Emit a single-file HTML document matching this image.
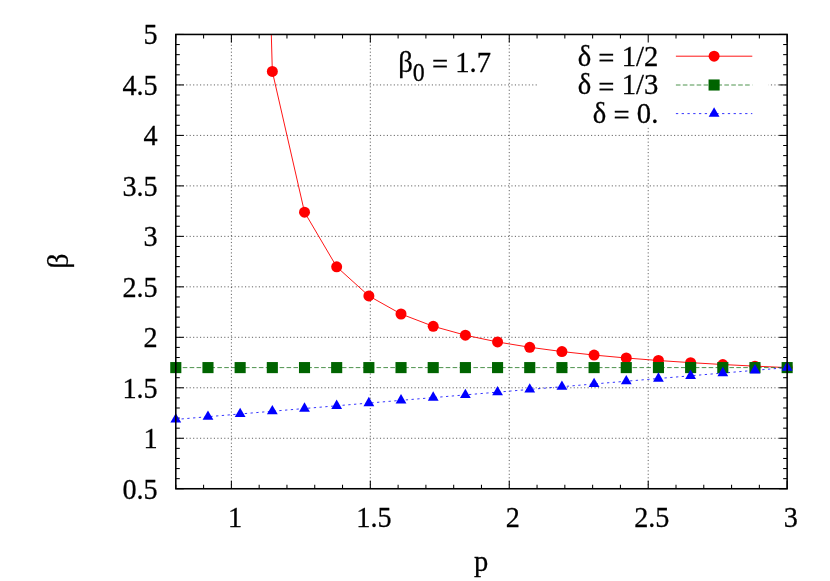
<!DOCTYPE html>
<html><head><meta charset="utf-8"><title>plot</title>
<style>html,body{margin:0;padding:0;background:#fff;overflow:hidden;}svg{display:block;}text{font-family:"Liberation Serif",serif;fill:#000;stroke:#000;stroke-width:0.28px;}</style></head><body>
<div style="width:830px;height:581px;will-change:transform;">
<svg width="830" height="581" viewBox="0 0 830 581">
<rect x="0" y="0" width="830" height="581" fill="#fff"/>
<g stroke="#000" stroke-opacity="0.95" stroke-width="0.65" stroke-dasharray="1.15 2.31" fill="none">
<line x1="175.80" y1="438.27" x2="787.15" y2="438.27"/>
<line x1="175.80" y1="387.79" x2="787.15" y2="387.79"/>
<line x1="175.80" y1="337.32" x2="787.15" y2="337.32"/>
<line x1="175.80" y1="286.84" x2="787.15" y2="286.84"/>
<line x1="175.80" y1="236.36" x2="787.15" y2="236.36"/>
<line x1="175.80" y1="185.88" x2="787.15" y2="185.88"/>
<line x1="175.80" y1="135.41" x2="787.15" y2="135.41"/>
<line x1="175.80" y1="84.93" x2="787.15" y2="84.93"/>
<line x1="231.38" y1="488.75" x2="231.38" y2="34.45"/>
<line x1="370.32" y1="488.75" x2="370.32" y2="34.45"/>
<line x1="509.26" y1="488.75" x2="509.26" y2="34.45"/>
<line x1="648.21" y1="488.75" x2="648.21" y2="34.45"/>
</g>
<rect x="537" y="34.45" width="231.7" height="92.85" fill="#fff"/>
<g stroke="#000" stroke-width="1.05" fill="none">
<line x1="175.80" y1="488.75" x2="183.80" y2="488.75"/>
<line x1="787.15" y1="488.75" x2="779.15" y2="488.75"/>
<line x1="175.80" y1="478.65" x2="179.80" y2="478.65"/>
<line x1="787.15" y1="478.65" x2="783.15" y2="478.65"/>
<line x1="175.80" y1="468.56" x2="179.80" y2="468.56"/>
<line x1="787.15" y1="468.56" x2="783.15" y2="468.56"/>
<line x1="175.80" y1="458.46" x2="179.80" y2="458.46"/>
<line x1="787.15" y1="458.46" x2="783.15" y2="458.46"/>
<line x1="175.80" y1="448.37" x2="179.80" y2="448.37"/>
<line x1="787.15" y1="448.37" x2="783.15" y2="448.37"/>
<line x1="175.80" y1="438.27" x2="183.80" y2="438.27"/>
<line x1="787.15" y1="438.27" x2="779.15" y2="438.27"/>
<line x1="175.80" y1="428.18" x2="179.80" y2="428.18"/>
<line x1="787.15" y1="428.18" x2="783.15" y2="428.18"/>
<line x1="175.80" y1="418.08" x2="179.80" y2="418.08"/>
<line x1="787.15" y1="418.08" x2="783.15" y2="418.08"/>
<line x1="175.80" y1="407.99" x2="179.80" y2="407.99"/>
<line x1="787.15" y1="407.99" x2="783.15" y2="407.99"/>
<line x1="175.80" y1="397.89" x2="179.80" y2="397.89"/>
<line x1="787.15" y1="397.89" x2="783.15" y2="397.89"/>
<line x1="175.80" y1="387.79" x2="183.80" y2="387.79"/>
<line x1="787.15" y1="387.79" x2="779.15" y2="387.79"/>
<line x1="175.80" y1="377.70" x2="179.80" y2="377.70"/>
<line x1="787.15" y1="377.70" x2="783.15" y2="377.70"/>
<line x1="175.80" y1="367.60" x2="179.80" y2="367.60"/>
<line x1="787.15" y1="367.60" x2="783.15" y2="367.60"/>
<line x1="175.80" y1="357.51" x2="179.80" y2="357.51"/>
<line x1="787.15" y1="357.51" x2="783.15" y2="357.51"/>
<line x1="175.80" y1="347.41" x2="179.80" y2="347.41"/>
<line x1="787.15" y1="347.41" x2="783.15" y2="347.41"/>
<line x1="175.80" y1="337.32" x2="183.80" y2="337.32"/>
<line x1="787.15" y1="337.32" x2="779.15" y2="337.32"/>
<line x1="175.80" y1="327.22" x2="179.80" y2="327.22"/>
<line x1="787.15" y1="327.22" x2="783.15" y2="327.22"/>
<line x1="175.80" y1="317.13" x2="179.80" y2="317.13"/>
<line x1="787.15" y1="317.13" x2="783.15" y2="317.13"/>
<line x1="175.80" y1="307.03" x2="179.80" y2="307.03"/>
<line x1="787.15" y1="307.03" x2="783.15" y2="307.03"/>
<line x1="175.80" y1="296.93" x2="179.80" y2="296.93"/>
<line x1="787.15" y1="296.93" x2="783.15" y2="296.93"/>
<line x1="175.80" y1="286.84" x2="183.80" y2="286.84"/>
<line x1="787.15" y1="286.84" x2="779.15" y2="286.84"/>
<line x1="175.80" y1="276.74" x2="179.80" y2="276.74"/>
<line x1="787.15" y1="276.74" x2="783.15" y2="276.74"/>
<line x1="175.80" y1="266.65" x2="179.80" y2="266.65"/>
<line x1="787.15" y1="266.65" x2="783.15" y2="266.65"/>
<line x1="175.80" y1="256.55" x2="179.80" y2="256.55"/>
<line x1="787.15" y1="256.55" x2="783.15" y2="256.55"/>
<line x1="175.80" y1="246.46" x2="179.80" y2="246.46"/>
<line x1="787.15" y1="246.46" x2="783.15" y2="246.46"/>
<line x1="175.80" y1="236.36" x2="183.80" y2="236.36"/>
<line x1="787.15" y1="236.36" x2="779.15" y2="236.36"/>
<line x1="175.80" y1="226.27" x2="179.80" y2="226.27"/>
<line x1="787.15" y1="226.27" x2="783.15" y2="226.27"/>
<line x1="175.80" y1="216.17" x2="179.80" y2="216.17"/>
<line x1="787.15" y1="216.17" x2="783.15" y2="216.17"/>
<line x1="175.80" y1="206.07" x2="179.80" y2="206.07"/>
<line x1="787.15" y1="206.07" x2="783.15" y2="206.07"/>
<line x1="175.80" y1="195.98" x2="179.80" y2="195.98"/>
<line x1="787.15" y1="195.98" x2="783.15" y2="195.98"/>
<line x1="175.80" y1="185.88" x2="183.80" y2="185.88"/>
<line x1="787.15" y1="185.88" x2="779.15" y2="185.88"/>
<line x1="175.80" y1="175.79" x2="179.80" y2="175.79"/>
<line x1="787.15" y1="175.79" x2="783.15" y2="175.79"/>
<line x1="175.80" y1="165.69" x2="179.80" y2="165.69"/>
<line x1="787.15" y1="165.69" x2="783.15" y2="165.69"/>
<line x1="175.80" y1="155.60" x2="179.80" y2="155.60"/>
<line x1="787.15" y1="155.60" x2="783.15" y2="155.60"/>
<line x1="175.80" y1="145.50" x2="179.80" y2="145.50"/>
<line x1="787.15" y1="145.50" x2="783.15" y2="145.50"/>
<line x1="175.80" y1="135.41" x2="183.80" y2="135.41"/>
<line x1="787.15" y1="135.41" x2="779.15" y2="135.41"/>
<line x1="175.80" y1="125.31" x2="179.80" y2="125.31"/>
<line x1="787.15" y1="125.31" x2="783.15" y2="125.31"/>
<line x1="175.80" y1="115.21" x2="179.80" y2="115.21"/>
<line x1="787.15" y1="115.21" x2="783.15" y2="115.21"/>
<line x1="175.80" y1="105.12" x2="179.80" y2="105.12"/>
<line x1="787.15" y1="105.12" x2="783.15" y2="105.12"/>
<line x1="175.80" y1="95.02" x2="179.80" y2="95.02"/>
<line x1="787.15" y1="95.02" x2="783.15" y2="95.02"/>
<line x1="175.80" y1="84.93" x2="183.80" y2="84.93"/>
<line x1="787.15" y1="84.93" x2="779.15" y2="84.93"/>
<line x1="175.80" y1="74.83" x2="179.80" y2="74.83"/>
<line x1="787.15" y1="74.83" x2="783.15" y2="74.83"/>
<line x1="175.80" y1="64.74" x2="179.80" y2="64.74"/>
<line x1="787.15" y1="64.74" x2="783.15" y2="64.74"/>
<line x1="175.80" y1="54.64" x2="179.80" y2="54.64"/>
<line x1="787.15" y1="54.64" x2="783.15" y2="54.64"/>
<line x1="175.80" y1="44.55" x2="179.80" y2="44.55"/>
<line x1="787.15" y1="44.55" x2="783.15" y2="44.55"/>
<line x1="175.80" y1="34.45" x2="183.80" y2="34.45"/>
<line x1="787.15" y1="34.45" x2="779.15" y2="34.45"/>
<line x1="175.80" y1="488.75" x2="175.80" y2="484.75"/>
<line x1="175.80" y1="34.45" x2="175.80" y2="38.45"/>
<line x1="203.59" y1="488.75" x2="203.59" y2="484.75"/>
<line x1="203.59" y1="34.45" x2="203.59" y2="38.45"/>
<line x1="231.38" y1="488.75" x2="231.38" y2="480.75"/>
<line x1="231.38" y1="34.45" x2="231.38" y2="42.45"/>
<line x1="259.17" y1="488.75" x2="259.17" y2="484.75"/>
<line x1="259.17" y1="34.45" x2="259.17" y2="38.45"/>
<line x1="286.95" y1="488.75" x2="286.95" y2="484.75"/>
<line x1="286.95" y1="34.45" x2="286.95" y2="38.45"/>
<line x1="314.74" y1="488.75" x2="314.74" y2="484.75"/>
<line x1="314.74" y1="34.45" x2="314.74" y2="38.45"/>
<line x1="342.53" y1="488.75" x2="342.53" y2="484.75"/>
<line x1="342.53" y1="34.45" x2="342.53" y2="38.45"/>
<line x1="370.32" y1="488.75" x2="370.32" y2="480.75"/>
<line x1="370.32" y1="34.45" x2="370.32" y2="42.45"/>
<line x1="398.11" y1="488.75" x2="398.11" y2="484.75"/>
<line x1="398.11" y1="34.45" x2="398.11" y2="38.45"/>
<line x1="425.90" y1="488.75" x2="425.90" y2="484.75"/>
<line x1="425.90" y1="34.45" x2="425.90" y2="38.45"/>
<line x1="453.69" y1="488.75" x2="453.69" y2="484.75"/>
<line x1="453.69" y1="34.45" x2="453.69" y2="38.45"/>
<line x1="481.47" y1="488.75" x2="481.47" y2="484.75"/>
<line x1="481.47" y1="34.45" x2="481.47" y2="38.45"/>
<line x1="509.26" y1="488.75" x2="509.26" y2="480.75"/>
<line x1="509.26" y1="34.45" x2="509.26" y2="42.45"/>
<line x1="537.05" y1="488.75" x2="537.05" y2="484.75"/>
<line x1="537.05" y1="34.45" x2="537.05" y2="38.45"/>
<line x1="564.84" y1="488.75" x2="564.84" y2="484.75"/>
<line x1="564.84" y1="34.45" x2="564.84" y2="38.45"/>
<line x1="592.63" y1="488.75" x2="592.63" y2="484.75"/>
<line x1="592.63" y1="34.45" x2="592.63" y2="38.45"/>
<line x1="620.42" y1="488.75" x2="620.42" y2="484.75"/>
<line x1="620.42" y1="34.45" x2="620.42" y2="38.45"/>
<line x1="648.21" y1="488.75" x2="648.21" y2="480.75"/>
<line x1="648.21" y1="34.45" x2="648.21" y2="42.45"/>
<line x1="676.00" y1="488.75" x2="676.00" y2="484.75"/>
<line x1="676.00" y1="34.45" x2="676.00" y2="38.45"/>
<line x1="703.78" y1="488.75" x2="703.78" y2="484.75"/>
<line x1="703.78" y1="34.45" x2="703.78" y2="38.45"/>
<line x1="731.57" y1="488.75" x2="731.57" y2="484.75"/>
<line x1="731.57" y1="34.45" x2="731.57" y2="38.45"/>
<line x1="759.36" y1="488.75" x2="759.36" y2="484.75"/>
<line x1="759.36" y1="34.45" x2="759.36" y2="38.45"/>
<line x1="787.15" y1="488.75" x2="787.15" y2="480.75"/>
<line x1="787.15" y1="34.45" x2="787.15" y2="42.45"/>
</g>
<clipPath id="c"><rect x="175.80" y="34.45" width="611.35" height="454.30"/></clipPath>
<g clip-path="url(#c)" fill="none">
<polyline points="240.15,-1100.74 272.33,71.47 304.51,212.13 336.68,266.83 368.86,295.93 401.03,313.99 433.21,326.29 465.39,335.21 497.56,341.98 529.74,347.28 561.92,351.55 594.09,355.07 626.27,358.01 658.44,360.50 690.62,362.65 722.80,364.52 754.97,366.16 787.15,367.60" stroke="#ff0000" stroke-width="0.92"/>
<polyline points="175.80,367.60 207.98,367.60 240.15,367.60 272.33,367.60 304.51,367.60 336.68,367.60 368.86,367.60 401.03,367.60 433.21,367.60 465.39,367.60 497.56,367.60 529.74,367.60 561.92,367.60 594.09,367.60 626.27,367.60 658.44,367.60 690.62,367.60 722.80,367.60 754.97,367.60 787.15,367.60" stroke="#006400" stroke-width="0.7" stroke-dasharray="4.61 2.31"/>
<polyline points="175.80,419.43 207.98,416.70 240.15,413.97 272.33,411.24 304.51,408.52 336.68,405.79 368.86,403.06 401.03,400.33 433.21,397.61 465.39,394.88 497.56,392.15 529.74,389.42 561.92,386.70 594.09,383.97 626.27,381.24 658.44,378.51 690.62,375.79 722.80,373.06 754.97,370.33 787.15,367.60" stroke="#0000ff" stroke-width="0.8" stroke-dasharray="2.31 3.46"/>
</g>
<circle cx="272.33" cy="71.47" r="5.5" fill="#ff0000"/>
<circle cx="304.51" cy="212.13" r="5.5" fill="#ff0000"/>
<circle cx="336.68" cy="266.83" r="5.5" fill="#ff0000"/>
<circle cx="368.86" cy="295.93" r="5.5" fill="#ff0000"/>
<circle cx="401.03" cy="313.99" r="5.5" fill="#ff0000"/>
<circle cx="433.21" cy="326.29" r="5.5" fill="#ff0000"/>
<circle cx="465.39" cy="335.21" r="5.5" fill="#ff0000"/>
<circle cx="497.56" cy="341.98" r="5.5" fill="#ff0000"/>
<circle cx="529.74" cy="347.28" r="5.5" fill="#ff0000"/>
<circle cx="561.92" cy="351.55" r="5.5" fill="#ff0000"/>
<circle cx="594.09" cy="355.07" r="5.5" fill="#ff0000"/>
<circle cx="626.27" cy="358.01" r="5.5" fill="#ff0000"/>
<circle cx="658.44" cy="360.50" r="5.5" fill="#ff0000"/>
<circle cx="690.62" cy="362.65" r="5.5" fill="#ff0000"/>
<circle cx="722.80" cy="364.52" r="5.5" fill="#ff0000"/>
<circle cx="754.97" cy="366.16" r="5.5" fill="#ff0000"/>
<circle cx="787.15" cy="367.60" r="5.5" fill="#ff0000"/>
<rect x="170.25" y="362.05" width="11.1" height="11.1" fill="#006400"/>
<rect x="202.43" y="362.05" width="11.1" height="11.1" fill="#006400"/>
<rect x="234.60" y="362.05" width="11.1" height="11.1" fill="#006400"/>
<rect x="266.78" y="362.05" width="11.1" height="11.1" fill="#006400"/>
<rect x="298.96" y="362.05" width="11.1" height="11.1" fill="#006400"/>
<rect x="331.13" y="362.05" width="11.1" height="11.1" fill="#006400"/>
<rect x="363.31" y="362.05" width="11.1" height="11.1" fill="#006400"/>
<rect x="395.48" y="362.05" width="11.1" height="11.1" fill="#006400"/>
<rect x="427.66" y="362.05" width="11.1" height="11.1" fill="#006400"/>
<rect x="459.84" y="362.05" width="11.1" height="11.1" fill="#006400"/>
<rect x="492.01" y="362.05" width="11.1" height="11.1" fill="#006400"/>
<rect x="524.19" y="362.05" width="11.1" height="11.1" fill="#006400"/>
<rect x="556.37" y="362.05" width="11.1" height="11.1" fill="#006400"/>
<rect x="588.54" y="362.05" width="11.1" height="11.1" fill="#006400"/>
<rect x="620.72" y="362.05" width="11.1" height="11.1" fill="#006400"/>
<rect x="652.89" y="362.05" width="11.1" height="11.1" fill="#006400"/>
<rect x="685.07" y="362.05" width="11.1" height="11.1" fill="#006400"/>
<rect x="717.25" y="362.05" width="11.1" height="11.1" fill="#006400"/>
<rect x="749.42" y="362.05" width="11.1" height="11.1" fill="#006400"/>
<rect x="781.60" y="362.05" width="11.1" height="11.1" fill="#006400"/>
<path d="M175.80,413.19 L181.20,422.54 L170.40,422.54 Z" fill="#0000ff"/>
<path d="M207.98,410.46 L213.38,419.82 L202.58,419.82 Z" fill="#0000ff"/>
<path d="M240.15,407.74 L245.55,417.09 L234.75,417.09 Z" fill="#0000ff"/>
<path d="M272.33,405.01 L277.73,414.36 L266.93,414.36 Z" fill="#0000ff"/>
<path d="M304.51,402.28 L309.91,411.63 L299.11,411.63 Z" fill="#0000ff"/>
<path d="M336.68,399.55 L342.08,408.91 L331.28,408.91 Z" fill="#0000ff"/>
<path d="M368.86,396.83 L374.26,406.18 L363.46,406.18 Z" fill="#0000ff"/>
<path d="M401.03,394.10 L406.43,403.45 L395.63,403.45 Z" fill="#0000ff"/>
<path d="M433.21,391.37 L438.61,400.72 L427.81,400.72 Z" fill="#0000ff"/>
<path d="M465.39,388.64 L470.79,398.00 L459.99,398.00 Z" fill="#0000ff"/>
<path d="M497.56,385.92 L502.96,395.27 L492.16,395.27 Z" fill="#0000ff"/>
<path d="M529.74,383.19 L535.14,392.54 L524.34,392.54 Z" fill="#0000ff"/>
<path d="M561.92,380.46 L567.32,389.81 L556.52,389.81 Z" fill="#0000ff"/>
<path d="M594.09,377.73 L599.49,387.09 L588.69,387.09 Z" fill="#0000ff"/>
<path d="M626.27,375.01 L631.67,384.36 L620.87,384.36 Z" fill="#0000ff"/>
<path d="M658.44,372.28 L663.84,381.63 L653.04,381.63 Z" fill="#0000ff"/>
<path d="M690.62,369.55 L696.02,378.90 L685.22,378.90 Z" fill="#0000ff"/>
<path d="M722.80,366.82 L728.20,376.18 L717.40,376.18 Z" fill="#0000ff"/>
<path d="M754.97,364.10 L760.37,373.45 L749.57,373.45 Z" fill="#0000ff"/>
<path d="M787.15,361.37 L792.55,370.72 L781.75,370.72 Z" fill="#0000ff"/>
<line x1="675.9" y1="56.2" x2="752.3" y2="56.2" stroke="#ff0000" stroke-width="0.92"/>
<line x1="675.9" y1="85.0" x2="752.3" y2="85.0" stroke="#006400" stroke-width="0.7" stroke-dasharray="4.61 2.31"/>
<line x1="675.9" y1="113.6" x2="752.3" y2="113.6" stroke="#0000ff" stroke-width="0.8" stroke-dasharray="2.31 3.46"/>
<circle cx="714.10" cy="56.20" r="5.5" fill="#ff0000"/>
<rect x="708.55" y="79.45" width="11.1" height="11.1" fill="#006400"/>
<path d="M714.10,107.36 L719.50,116.72 L708.70,116.72 Z" fill="#0000ff"/>
<text transform="translate(658.30,65.60) scale(0.955,1)" font-size="30" text-anchor="end">δ <tspan dy="2.2">=</tspan><tspan dy="-2.2"> </tspan>1/2</text>
<text transform="translate(658.30,94.40) scale(0.955,1)" font-size="30" text-anchor="end">δ <tspan dy="2.2">=</tspan><tspan dy="-2.2"> </tspan>1/3</text>
<text transform="translate(658.30,123.00) scale(0.955,1)" font-size="30" text-anchor="end">δ <tspan dy="2.2">=</tspan><tspan dy="-2.2"> </tspan>0.</text>
<rect x="175.80" y="34.45" width="611.35" height="454.30" fill="none" stroke="#000" stroke-width="1.55"/>
<text transform="translate(157.70,498.60) scale(0.94,1)" font-size="30" text-anchor="end">0.5</text>
<text transform="translate(157.70,448.12) scale(0.94,1)" font-size="30" text-anchor="end">1</text>
<text transform="translate(157.70,397.64) scale(0.94,1)" font-size="30" text-anchor="end">1.5</text>
<text transform="translate(157.70,347.17) scale(0.94,1)" font-size="30" text-anchor="end">2</text>
<text transform="translate(157.70,296.69) scale(0.94,1)" font-size="30" text-anchor="end">2.5</text>
<text transform="translate(157.70,246.21) scale(0.94,1)" font-size="30" text-anchor="end">3</text>
<text transform="translate(157.70,195.73) scale(0.94,1)" font-size="30" text-anchor="end">3.5</text>
<text transform="translate(157.70,145.26) scale(0.94,1)" font-size="30" text-anchor="end">4</text>
<text transform="translate(157.70,94.78) scale(0.94,1)" font-size="30" text-anchor="end">4.5</text>
<text transform="translate(157.70,44.30) scale(0.94,1)" font-size="30" text-anchor="end">5</text>
<text transform="translate(234.98,526.90) scale(0.94,1)" font-size="30" text-anchor="middle">1</text>
<text transform="translate(373.92,526.90) scale(0.94,1)" font-size="30" text-anchor="middle">1.5</text>
<text transform="translate(512.86,526.90) scale(0.94,1)" font-size="30" text-anchor="middle">2</text>
<text transform="translate(651.81,526.90) scale(0.94,1)" font-size="30" text-anchor="middle">2.5</text>
<text transform="translate(790.75,526.90) scale(0.94,1)" font-size="30" text-anchor="middle">3</text>
<text transform="translate(481.00,570.60) scale(0.95,1)" font-size="30" text-anchor="middle">p</text>
<text transform="translate(67.6,261.1) rotate(-90)" font-size="30" text-anchor="middle">β</text>
<text transform="translate(398.30,71.90) scale(0.955,1)" font-size="30" text-anchor="start">β<tspan font-size="25" dy="8.6">0</tspan><tspan dy="-6.4"> =</tspan><tspan dy="-2.2"> 1.7</tspan></text>
</svg></div></body></html>
